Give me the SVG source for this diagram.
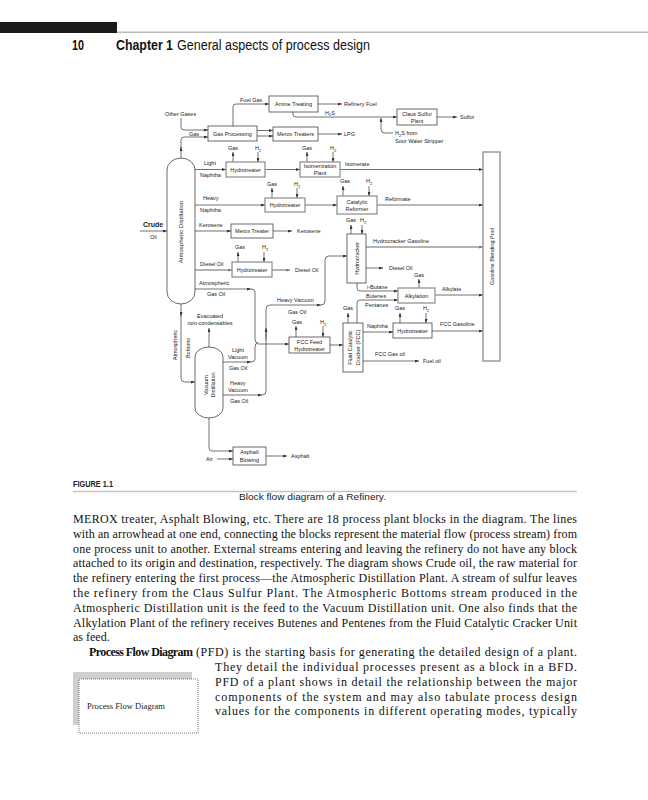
<svg xmlns="http://www.w3.org/2000/svg" width="648" height="800" viewBox="0 0 648 800">
<style>
.ln{fill:none;stroke:#333;stroke-width:0.7}
.lg{fill:none;stroke:#9a9a9a;stroke-width:1.5}
.bx{fill:#fff;stroke:#444;stroke-width:0.8}
.bg{fill:#fff;stroke:#8a8a8a;stroke-width:1.2}
.t{font-family:"Liberation Sans",Arial,sans-serif;font-size:5.5px;fill:#222}
.c{text-anchor:middle}
.s{font-size:4px}
.body{font-family:"Liberation Serif","Times New Roman",serif;font-size:12px;fill:#111}
</style>
<defs>
<marker id="a" markerWidth="4" markerHeight="3" refX="4" refY="1.5" orient="auto" markerUnits="userSpaceOnUse"><path d="M0,0 L4,1.5 L0,3 z" fill="#333"/></marker>
<marker id="ag" markerWidth="4" markerHeight="3" refX="4" refY="1.5" orient="auto" markerUnits="userSpaceOnUse"><path d="M0,0 L4,1.5 L0,3 z" fill="#777"/></marker>
</defs>
<rect width="648" height="800" fill="#fff"/>
<!-- header -->
<rect x="0" y="22" width="117" height="11" fill="#1a1a1a"/>
<line x1="117" y1="32.3" x2="648" y2="32.3" stroke="#bdbdbd" stroke-width="1.5"/>
<text x="72" y="50" font-family="Liberation Sans,Arial,sans-serif" font-size="14" font-weight="bold" fill="#111" textLength="12" lengthAdjust="spacingAndGlyphs">10</text>
<text x="116" y="50" font-family="Liberation Sans,Arial,sans-serif" font-size="14" font-weight="bold" fill="#111" textLength="57" lengthAdjust="spacingAndGlyphs">Chapter 1</text>
<text x="177" y="50" font-family="Liberation Sans,Arial,sans-serif" font-size="14" fill="#111" textLength="193" lengthAdjust="spacingAndGlyphs">General aspects of process design</text>

<g id="connectors">
<path class="ln" marker-end="url(#a)" d="M233,126 V107 Q233,104 236,104 H269"/>
<path class="ln" marker-end="url(#a)" d="M318,104 H342"/>
<path class="ln" marker-end="url(#a)" d="M293,112 V114 Q293,117 296,117 H397"/>
<path class="ln" marker-end="url(#a)" d="M437,117 H457"/>
<path class="ln" marker-end="url(#a)" d="M393,133 H385 Q381,133 381,129 V118"/>
<path class="ln" marker-end="url(#a)" d="M181,118 V127 Q181,130 184,130 H208"/>
<path class="ln" marker-end="url(#a)" d="M181,158 V147"/>
<path class="ln" marker-end="url(#a)" d="M181,148 V140 Q181,137 184,137 H208"/>
<path class="ln" marker-end="url(#a)" d="M257,130.5 H273"/>
<path class="ln" marker-end="url(#a)" d="M257,136 H273"/>
<path class="ln" marker-end="url(#a)" d="M318,134 H342"/>
<!-- light naphtha -->
<path class="ln" marker-end="url(#a)" d="M195,169.5 H226"/>
<path class="ln" marker-end="url(#a)" d="M233,162 V152"/>
<path class="ln" marker-end="url(#a)" d="M258,152 V162"/>
<path class="ln" marker-end="url(#a)" d="M265,169.5 H300"/>
<path class="ln" marker-end="url(#a)" d="M307,162 V152"/>
<path class="ln" marker-end="url(#a)" d="M333,152 V162"/>
<path class="ln" marker-end="url(#a)" d="M340,169.5 H483"/>
<!-- heavy naphtha -->
<path class="ln" marker-end="url(#a)" d="M195,205 H265"/>
<path class="ln" marker-end="url(#a)" d="M272,198 V188"/>
<path class="ln" marker-end="url(#a)" d="M297,188 V198"/>
<path class="ln" marker-end="url(#a)" d="M305,205 H337"/>
<path class="ln" marker-end="url(#a)" d="M343,196 V186"/>
<path class="ln" marker-end="url(#a)" d="M369,186 V196"/>
<path class="ln" marker-end="url(#a)" d="M377,205 H483"/>
<!-- kerosene -->
<path class="ln" marker-end="url(#a)" d="M195,231 H231"/>
<path class="ln" marker-end="url(#a)" d="M273,231 H292"/>
<!-- crude -->
<path class="ln" marker-end="url(#a)" d="M140,231 H167"/>
<!-- diesel -->
<path class="lg" marker-end="url(#ag)" d="M195,270 H232"/>
<path class="ln" marker-end="url(#a)" d="M238,262 V252"/>
<path class="ln" marker-end="url(#a)" d="M264,252 V262"/>
<path class="lg" marker-end="url(#ag)" d="M272,270 H290"/>
<!-- atmospheric gas oil / light vacuum gas oil -->
<path class="ln" marker-end="url(#a)" d="M195,289 H251"/>
<path class="ln" d="M251,289 Q255,289 255,292 V339 Q255,343 258,343"/>
<path class="ln" marker-end="url(#a)" d="M223,362 H251"/>
<path class="ln" d="M251,362 Q255,362 255,359 V347 Q255,343 258,343"/>
<path class="ln" marker-end="url(#a)" d="M258,344 H289"/>
<!-- heavy vacuum gas oil -->
<path class="ln" marker-end="url(#a)" d="M223,395 H262"/>
<path class="ln" marker-end="url(#a)" d="M262,395 Q266,395 266,391 V309 Q266,305 270,305 H321"/>
<path class="ln" marker-end="url(#a)" d="M266,340 V328"/>
<path class="ln" marker-end="url(#a)" d="M321,305 Q325,305 325,301 V260 Q325,256 329,256 H347"/>
<!-- FCC feed hydrotreater -->
<path class="ln" marker-end="url(#a)" d="M296,337 V326"/>
<path class="ln" marker-end="url(#a)" d="M323,326 V337"/>
<path class="ln" marker-end="url(#a)" d="M330,345 H343"/>
<!-- hydrocracker -->
<path class="ln" marker-end="url(#a)" d="M351,234 V225"/>
<path class="ln" marker-end="url(#a)" d="M362,225 V234"/>
<path class="lg" marker-end="url(#ag)" d="M366,247 H483"/>
<path class="ln" marker-end="url(#a)" d="M366,268 H383"/>
<path class="ln" marker-end="url(#a)" d="M357,283 V288 Q357,291 360,291 H398"/>
<!-- FCC -->
<path class="ln" marker-end="url(#a)" d="M348,323 V313"/>
<path class="ln" marker-end="url(#a)" d="M357,323 V303 Q357,300 360,300 H398"/>
<path class="ln" marker-end="url(#a)" d="M363,332 H393"/>
<path class="ln" marker-end="url(#a)" d="M400,323 V313"/>
<path class="ln" marker-end="url(#a)" d="M426,313 V323"/>
<path class="ln" marker-end="url(#a)" d="M432,331 H483"/>
<path class="ln" marker-end="url(#a)" d="M363,361 H419"/>
<!-- alkylation -->
<path class="ln" marker-end="url(#a)" d="M419,288 V279"/>
<path class="ln" marker-end="url(#a)" d="M435,295 H483"/>
<!-- atmospheric bottoms -->
<path class="ln" marker-end="url(#a)" d="M181,304 V316"/>
<path class="ln" marker-end="url(#a)" d="M181,315 V378 Q181,382 185,382 H195"/>
<!-- vacuum -->
<path class="ln" marker-end="url(#a)" d="M209,347 V328"/>
<path class="ln" marker-end="url(#a)" d="M209,418 V448 Q209,451 212,451 H233"/>
<path class="ln" marker-end="url(#a)" d="M217,459 H233"/>
<path class="ln" marker-end="url(#a)" d="M266,456 H287"/>
</g>

<!-- stream labels -->
<g id="labels" class="t">
<text x="240" y="102">Fuel Gas</text>
<text x="344" y="106">Refinery Fuel</text>
<text x="325" y="114.5">H<tspan class="s" dy="1.5">2</tspan><tspan dy="-1.5">S</tspan></text>
<text x="460" y="119">Sulfur</text>
<text x="395" y="135">H<tspan class="s" dy="1.5">2</tspan><tspan dy="-1.5">S from</tspan></text>
<text x="395" y="143">Sour Water Stripper</text>
<text x="165" y="116">Other Gases</text>
<text x="189" y="135.5">Gas</text>
<text x="344" y="136">LPG</text>
<text x="204" y="165">Light</text>
<text x="200" y="177">Naphtha</text>
<text class="c" x="233" y="150">Gas</text>
<text class="c" x="258" y="150">H<tspan class="s" dy="1.5">2</tspan></text>
<text class="c" x="307" y="150">Gas</text>
<text class="c" x="333" y="150">H<tspan class="s" dy="1.5">2</tspan></text>
<text x="345" y="166">Isomerate</text>
<text x="203" y="200">Heavy</text>
<text x="200" y="212">Naphtha</text>
<text class="c" x="272" y="186">Gas</text>
<text class="c" x="297" y="186">H<tspan class="s" dy="1.5">2</tspan></text>
<text class="c" x="345" y="183">Gas</text>
<text class="c" x="369" y="183">H<tspan class="s" dy="1.5">2</tspan></text>
<text x="385" y="201">Reformate</text>
<text x="199" y="227">Kerosene</text>
<text x="297" y="233">Kerosene</text>
<text x="143" y="227" style="font-size:7px;font-weight:bold">Crude</text>
<text x="150" y="239">Oil</text>
<text class="c" x="240" y="249">Gas</text>
<text class="c" x="265" y="249">H<tspan class="s" dy="1.5">2</tspan></text>
<text x="200" y="266">Diesel Oil</text>
<text x="295" y="272">Diesel Oil</text>
<text x="199" y="285">Atmospheric</text>
<text x="207" y="296">Gas Oil</text>
<text class="c" x="351" y="222">Gas</text>
<text class="c" x="363" y="222">H<tspan class="s" dy="1.5">2</tspan></text>
<text x="373" y="243">Hydrocracker Gasoline</text>
<text x="389" y="270">Diesel Oil</text>
<text x="367" y="289">i-Butane</text>
<text x="366" y="297.5">Butenes</text>
<text x="365" y="307">Pentanes</text>
<text class="c" x="419" y="277">Gas</text>
<text x="442" y="291">Alkylate</text>
<text x="277" y="302">Heavy Vacuum</text>
<text x="288" y="314">Gas Oil</text>
<text class="c" x="297" y="324">Gas</text>
<text class="c" x="323" y="324">H<tspan class="s" dy="1.5">2</tspan></text>
<text class="c" x="348" y="310">Gas</text>
<text x="367" y="328">Naphtha</text>
<text class="c" x="400" y="310">Gas</text>
<text class="c" x="426" y="310">H<tspan class="s" dy="1.5">2</tspan></text>
<text x="440" y="326">FCC Gasoline</text>
<text x="375" y="356">FCC Gas oil</text>
<text x="423" y="363">Fuel oil</text>
<text class="c" x="210" y="318">Evacuated</text>
<text class="c" x="210" y="325">non-condensables</text>
<text x="232" y="352">Light</text>
<text x="228" y="359">Vacuum</text>
<text x="229" y="370">Gas Oil</text>
<text x="230" y="385">Heavy</text>
<text x="228" y="391.5">Vacuum</text>
<text x="230" y="403">Gas Oil</text>
<text class="c" transform="translate(176.5,345) rotate(-90)">Atmospheric</text>
<text class="c" transform="translate(190,348) rotate(-90)">Bottoms</text>
<text x="206" y="461">Air</text>
<text x="291" y="458">Asphalt</text>
</g>

<!-- nodes -->
<g id="amine" class="t"><rect class="bx" x="269" y="96" width="49" height="16"/><text class="c" x="293.5" y="106">Amine Treating</text></g>
<g id="claus" class="t"><rect class="bx" x="397" y="109" width="40" height="16"/><text class="c" x="417" y="115.5">Claus Sulfur</text><text class="c" x="417" y="122.5">Plant</text></g>
<g id="gasproc" class="t"><rect class="bx" x="208" y="126" width="49" height="15"/><text class="c" x="232.5" y="135.5">Gas Processing</text></g>
<g id="meroxs" class="t"><rect class="bx" x="273" y="127" width="45" height="14"/><text class="c" x="295.5" y="136">Merox Treaters</text></g>
<g id="ht1" class="t"><rect class="bg" x="226" y="162" width="39" height="15"/><text class="c" x="245.5" y="171.5">Hydrotreater</text></g>
<g id="isom" class="t"><rect class="bg" x="300" y="162" width="40" height="15"/><text class="c" x="320" y="168">Isomerization</text><text class="c" x="320" y="175">Plant</text></g>
<g id="ht2" class="t"><rect class="bg" x="265" y="198" width="40" height="14"/><text class="c" x="285" y="207">Hydrotreater</text></g>
<g id="reformer" class="t"><rect class="bg" x="337" y="196" width="40" height="18"/><text class="c" x="357" y="203.5">Catalytic</text><text class="c" x="357" y="210.5">Reformer</text></g>
<g id="merox" class="t"><rect class="bx" x="231" y="224" width="42" height="14"/><text class="c" x="252" y="233">Merox Treater</text></g>
<g id="ht3" class="t"><rect class="bg" x="232" y="262" width="40" height="15"/><text class="c" x="252" y="271.5">Hydrotreater</text></g>
<g id="hydrocracker" class="t"><rect class="bx" x="347" y="234" width="19" height="49"/><text class="c" transform="translate(358.5,258.5) rotate(-90)">Hydrocracker</text></g>
<g id="alkylation" class="t"><rect class="bg" x="398" y="288" width="37" height="15"/><text class="c" x="416.5" y="297.5">Alkylation</text></g>
<g id="fccfeed" class="t"><rect class="bx" x="289" y="337" width="41" height="16"/><text class="c" x="309.5" y="343.5">FCC Feed</text><text class="c" x="309.5" y="350.5">Hydrotreater</text></g>
<g id="fcc" class="t"><rect class="bx" x="343" y="323" width="20" height="49"/><text class="c" transform="translate(352,347.5) rotate(-90)">Fluid Catalytic</text><text class="c" transform="translate(359.5,347.5) rotate(-90)">Cracker (FCC)</text></g>
<g id="ht4" class="t"><rect class="bx" x="393" y="323" width="39" height="15"/><text class="c" x="412.5" y="332.5">Hydrotreater</text></g>
<g id="asphalt" class="t"><rect class="bx" x="233" y="447" width="33" height="18"/><text class="c" x="249.5" y="454">Asphalt</text><text class="c" x="249.5" y="461.5">Blowing</text></g>
<g id="atmcol" class="t"><rect class="bx" x="167" y="158" width="28" height="146" rx="14" ry="12"/><text class="c" style="font-size:6px" transform="translate(183,232) rotate(-90)">Atmospheric Distillation</text></g>
<g id="vaccol" class="t"><rect class="bx" x="195" y="347" width="28" height="71" rx="14" ry="10"/><text class="c" transform="translate(207.5,385) rotate(-90)">Vacuum</text><text class="c" transform="translate(215,385) rotate(-90)">Distillation</text></g>
<g id="pool" class="t"><rect x="483" y="152" width="17" height="209" fill="#fff" stroke="#9a9a9a" stroke-width="1.5"/><text class="c" transform="translate(493.5,256.5) rotate(-90)">Gasoline Blending Pool</text></g>

<!-- caption -->
<text x="73" y="487" font-family="Liberation Sans,Arial,sans-serif" font-size="9.5" font-weight="bold" fill="#222" textLength="40" lengthAdjust="spacingAndGlyphs">FIGURE 1.1</text>
<line x1="73" y1="491.5" x2="577" y2="491.5" stroke="#c4c4c4" stroke-width="1.5"/>
<text x="239" y="500" font-family="Liberation Sans,Arial,sans-serif" font-size="9.5" fill="#222" textLength="147" lengthAdjust="spacingAndGlyphs">Block flow diagram of a Refinery.</text>

<!-- body text -->
<g class="body">
<text x="73" y="523" textLength="504" lengthAdjust="spacing">MEROX treater, Asphalt Blowing, etc. There are 18 process plant blocks in the diagram. The lines</text>
<text x="73" y="537.8" textLength="504" lengthAdjust="spacing">with an arrowhead at one end, connecting the blocks represent the material flow (process stream) from</text>
<text x="73" y="552.6" textLength="504" lengthAdjust="spacing">one process unit to another. External streams entering and leaving the refinery do not have any block</text>
<text x="73" y="567.4" textLength="504" lengthAdjust="spacing">attached to its origin and destination, respectively. The diagram shows Crude oil, the raw material for</text>
<text x="73" y="582.2" textLength="504" lengthAdjust="spacing">the refinery entering the first process—the Atmospheric Distillation Plant. A stream of sulfur leaves</text>
<text x="73" y="597" textLength="504" lengthAdjust="spacing">the refinery from the Claus Sulfur Plant. The Atmospheric Bottoms stream produced in the</text>
<text x="73" y="611.8" textLength="504" lengthAdjust="spacing">Atmospheric Distillation unit is the feed to the Vacuum Distillation unit. One also finds that the</text>
<text x="73" y="626.6" textLength="504" lengthAdjust="spacing">Alkylation Plant of the refinery receives Butenes and Pentenes from the Fluid Catalytic Cracker Unit</text>
<text x="73" y="641.4">as feed.</text>
<text x="89" y="656.2" font-weight="bold" textLength="104" lengthAdjust="spacing">Process Flow Diagram</text>
<text x="196" y="656.2" textLength="381" lengthAdjust="spacing">(PFD) is the starting basis for generating the detailed design of a plant.</text>
<text x="215" y="671" textLength="362" lengthAdjust="spacing">They detail the individual processes present as a block in a BFD.</text>
<text x="215" y="685.8" textLength="362" lengthAdjust="spacing">PFD of a plant shows in detail the relationship between the major</text>
<text x="215" y="700.6" textLength="362" lengthAdjust="spacing">components of the system and may also tabulate process design</text>
<text x="215" y="715.4" textLength="362" lengthAdjust="spacing">values for the components in different operating modes, typically</text>
</g>
<!-- sidebar -->
<g id="sidebar">
<rect x="73" y="672" width="119" height="53" fill="#cfcfcf"/>
<rect x="79" y="679" width="119" height="54" fill="#fff" stroke="#555" stroke-width="0.8" stroke-dasharray="1,1"/>
<text x="87" y="709" font-family="Liberation Serif,Times New Roman,serif" font-size="8.5" fill="#222" textLength="78" lengthAdjust="spacingAndGlyphs">Process Flow Diagram</text>
</g>
</svg>
